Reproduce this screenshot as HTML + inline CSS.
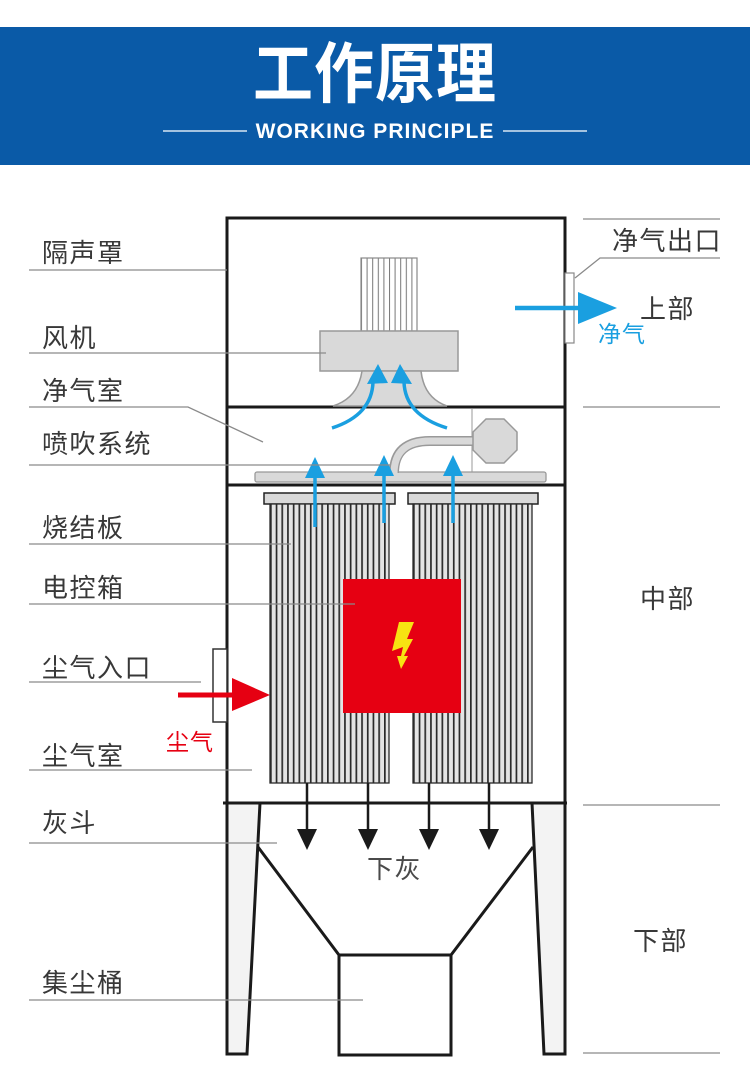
<!DOCTYPE html>
<html><head><meta charset="utf-8">
<style>
html,body{margin:0;padding:0;background:#fff;}
#wrap{position:relative;width:750px;height:1077px;overflow:hidden;background:#fff;}
.t{position:absolute;font-family:"Liberation Sans","Noto Sans CJK SC",sans-serif;font-size:26px;line-height:26px;color:#383838;letter-spacing:1.5px;white-space:nowrap;}
svg{position:absolute;left:0;top:0;}
</style></head>
<body><div id="wrap">
<svg width="750" height="1077" viewBox="0 0 750 1077">
<defs>
<pattern id="pl" x="270" y="0" width="5.7" height="20" patternUnits="userSpaceOnUse"><rect width="5.7" height="20" fill="#e4e4e4"/><rect width="1.7" height="20" fill="#2a2a2a"/></pattern>
<pattern id="pr" x="413" y="0" width="5.7" height="20" patternUnits="userSpaceOnUse"><rect width="5.7" height="20" fill="#e4e4e4"/><rect width="1.7" height="20" fill="#2a2a2a"/></pattern>
<pattern id="gr" x="361" y="0" width="5.6" height="20" patternUnits="userSpaceOnUse"><rect width="5.6" height="20" fill="#fff"/><rect width="1" height="20" fill="#777"/></pattern>
</defs>
<!-- header -->
<rect x="0" y="27" width="750" height="138" fill="#0a5aa7"/>
<line x1="163" y1="131" x2="247" y2="131" stroke="#d8e6f4" stroke-width="1.5"/>
<line x1="503" y1="131" x2="587" y2="131" stroke="#d8e6f4" stroke-width="1.5"/>

<!-- legs -->
<polygon points="227,803 260,803 247,1054 227,1054" fill="#f3f3f3" stroke="#1a1a1a" stroke-width="3"/>
<polygon points="532,803 565,803 565,1054 544,1054" fill="#f3f3f3" stroke="#1a1a1a" stroke-width="3"/>
<!-- hopper -->
<polyline points="258,847 339,955 451,955 533,847" fill="none" stroke="#1a1a1a" stroke-width="3"/>
<rect x="339" y="955" width="112" height="100" fill="#fff" stroke="#1a1a1a" stroke-width="3"/>

<!-- main frame -->
<rect x="227" y="218" width="338" height="585" fill="none" stroke="#1a1a1a" stroke-width="3"/>
<line x1="227" y1="407" x2="565" y2="407" stroke="#1a1a1a" stroke-width="3"/>
<line x1="227" y1="485" x2="565" y2="485" stroke="#1a1a1a" stroke-width="3"/>
<line x1="223" y1="803" x2="567" y2="803" stroke="#1a1a1a" stroke-width="3"/>

<!-- fan -->
<rect x="361" y="258" width="56" height="73" fill="url(#gr)" stroke="#888" stroke-width="1.2"/>
<rect x="320" y="331" width="138" height="40" fill="#d9d9d9" stroke="#999" stroke-width="1.5"/>
<path d="M362,371 Q358,398 333,406 L447,406 Q424,398 421,371 Z" fill="#d9d9d9" stroke="#999" stroke-width="1.5"/>

<!-- mid section -->
<line x1="472" y1="409" x2="472" y2="472" stroke="#aaa" stroke-width="1.2"/>
<rect x="255" y="472" width="291" height="10" rx="2" fill="#d9d9d9" stroke="#999" stroke-width="1.3"/>
<path d="M394,473 Q394,441 430,441 L476,441" fill="none" stroke="#999" stroke-width="10"/>
<path d="M394,474 Q394,441 430,441 L477,441" fill="none" stroke="#d9d9d9" stroke-width="7"/>
<polygon points="486,419 504,419 517,432 517,450 504,463 486,463 473,450 473,432" fill="#d9d9d9" stroke="#999" stroke-width="1.5"/>

<!-- curved blue arrows -->
<path d="M332,428 Q372,415 373,382" fill="none" stroke="#1a9fe0" stroke-width="3.5"/>
<polygon points="378,364 367,384 388,383" fill="#1a9fe0"/>
<path d="M447,428 Q405,415 404,382" fill="none" stroke="#1a9fe0" stroke-width="3.5"/>
<polygon points="400,364 391,383 412,384" fill="#1a9fe0"/>

<!-- filters -->
<rect x="264" y="493" width="131" height="11" fill="#d9d9d9" stroke="#222" stroke-width="1.5"/>
<rect x="408" y="493" width="130" height="11" fill="#d9d9d9" stroke="#222" stroke-width="1.5"/>
<rect x="270" y="504" width="119" height="279" fill="url(#pl)" stroke="#2a2a2a" stroke-width="1.3"/>
<rect x="413" y="504" width="119" height="279" fill="url(#pr)" stroke="#2a2a2a" stroke-width="1.3"/>

<!-- straight blue arrows -->
<line x1="315" y1="527" x2="315" y2="474" stroke="#1a9fe0" stroke-width="3.5"/>
<polygon points="305,478 325,478 315,457" fill="#1a9fe0"/>
<line x1="384" y1="523" x2="384" y2="472" stroke="#1a9fe0" stroke-width="3.5"/>
<polygon points="374,476 394,476 384,455" fill="#1a9fe0"/>
<line x1="453" y1="523" x2="453" y2="472" stroke="#1a9fe0" stroke-width="3.5"/>
<polygon points="443,476 463,476 453,455" fill="#1a9fe0"/>

<!-- control box -->
<rect x="343" y="579" width="118" height="134" fill="#e60012"/>
<polygon points="399,622 414,622 407,639 413,639 404,656 408,656 401,669 397,656 401,656 403,647 392,651" fill="#f7e312"/>

<!-- down arrows -->
<g stroke="#1a1a1a" stroke-width="2.5">
<line x1="307" y1="783" x2="307" y2="832"/>
<line x1="368" y1="783" x2="368" y2="832"/>
<line x1="429" y1="783" x2="429" y2="832"/>
<line x1="489" y1="783" x2="489" y2="832"/>
</g>
<g fill="#1a1a1a">
<polygon points="297,829 317,829 307,850"/>
<polygon points="358,829 378,829 368,850"/>
<polygon points="419,829 439,829 429,850"/>
<polygon points="479,829 499,829 489,850"/>
</g>

<!-- inlet -->
<rect x="213" y="649" width="14" height="73" fill="#fff" stroke="#333" stroke-width="1.5"/>
<line x1="178" y1="695" x2="236" y2="695" stroke="#e60012" stroke-width="5"/>
<polygon points="232,678 270,695 232,711" fill="#e60012"/>

<!-- outlet -->
<rect x="565" y="273" width="9" height="70" fill="#fff" stroke="#888" stroke-width="1.2"/>
<line x1="515" y1="308" x2="582" y2="308" stroke="#1a9fe0" stroke-width="4.5"/>
<polygon points="578,292 617,308 578,324" fill="#1a9fe0"/>

<!-- label lines -->
<g stroke="#8a8a8a" stroke-width="1.3" fill="none">
<line x1="29" y1="270" x2="227" y2="270"/>
<line x1="29" y1="353" x2="326" y2="353"/>
<polyline points="29,407 188,407 263,442"/>
<line x1="29" y1="465" x2="390" y2="465"/>
<line x1="29" y1="544" x2="291" y2="544"/>
<line x1="29" y1="604" x2="355" y2="604"/>
<line x1="29" y1="682" x2="201" y2="682"/>
<line x1="29" y1="770" x2="252" y2="770"/>
<line x1="29" y1="843" x2="277" y2="843"/>
<line x1="29" y1="1000" x2="363" y2="1000"/>
<line x1="583" y1="219" x2="720" y2="219"/>
<polyline points="720,258 600,258 575,278"/>
<line x1="583" y1="407" x2="720" y2="407"/>
<line x1="583" y1="805" x2="720" y2="805"/>
<line x1="583" y1="1053" x2="720" y2="1053"/>
</g>
</svg>

<!-- header text -->
<div style="position:absolute;left:0;top:45px;width:750px;text-align:center;font-family:'Liberation Sans','Noto Sans CJK SC',sans-serif;font-weight:700;font-size:60px;line-height:60px;color:#fff;letter-spacing:1px;transform:scaleY(1.1);transform-origin:center center;">工作原理</div>
<div style="position:absolute;left:0;top:121px;width:750px;text-align:center;font-family:'Liberation Sans',sans-serif;font-weight:700;font-size:21px;line-height:21px;color:#fff;letter-spacing:1px;">WORKING PRINCIPLE</div>

<!-- left labels -->
<div class="t" style="left:42px;top:240px;">隔声罩</div>
<div class="t" style="left:42px;top:325px;">风机</div>
<div class="t" style="left:42px;top:378px;">净气室</div>
<div class="t" style="left:42px;top:431px;">喷吹系统</div>
<div class="t" style="left:42px;top:515px;">烧结板</div>
<div class="t" style="left:42px;top:575px;">电控箱</div>
<div class="t" style="left:42px;top:655px;">尘气入口</div>
<div class="t" style="left:42px;top:743px;">尘气室</div>
<div class="t" style="left:42px;top:810px;">灰斗</div>
<div class="t" style="left:42px;top:970px;">集尘桶</div>

<!-- right labels -->
<div class="t" style="left:612px;top:228px;">净气出口</div>
<div class="t" style="left:640px;top:296px;">上部</div>
<div class="t" style="left:598px;top:323px;font-size:23px;line-height:23px;color:#1a9fe0;letter-spacing:1px;">净气</div>
<div class="t" style="left:640px;top:586px;">中部</div>
<div class="t" style="left:633px;top:928px;">下部</div>
<div class="t" style="left:367px;top:856px;color:#4a4a4a;">下灰</div>
<div class="t" style="left:166px;top:731px;font-size:23px;line-height:23px;color:#e60012;letter-spacing:1px;">尘气</div>
</div></body></html>
